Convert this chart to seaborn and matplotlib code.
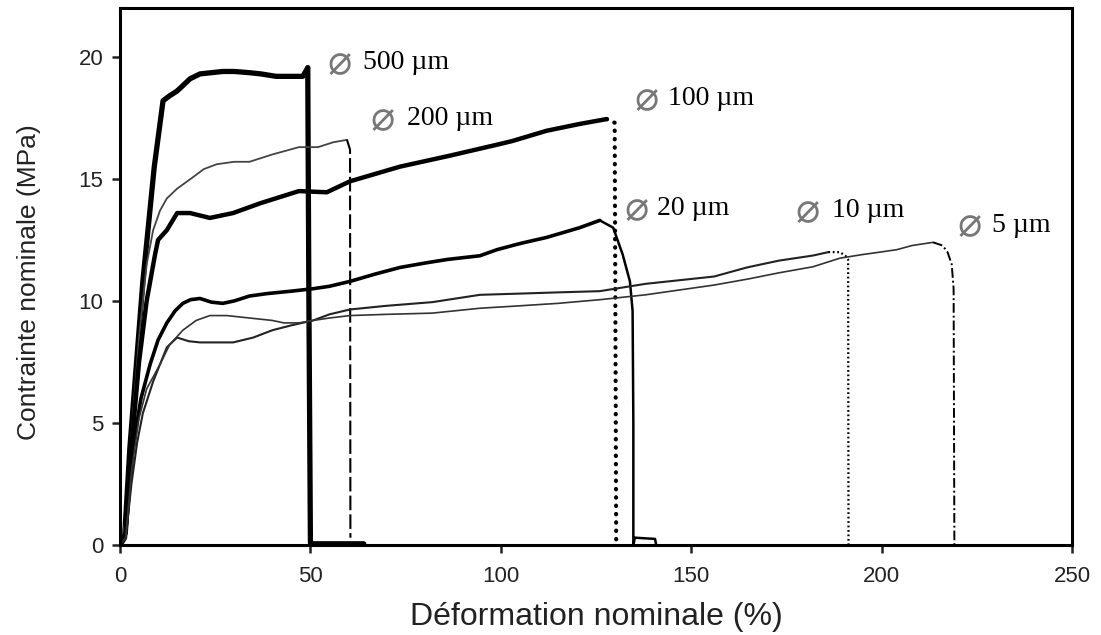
import matplotlib
matplotlib.use("Agg")
import matplotlib.pyplot as plt
import seaborn as sns
import numpy as np
import pandas as pd

# strain (%) / stress (MPa), one pair per fibre diameter
strain_500 = [0, 1.2, 2.6, 6, 9, 11.3, 13, 15, 18.4, 21, 24, 27, 30, 34, 37, 41, 45, 48, 49.3,
              49.6, 50.0, 50.3, 55, 60, 64]
stress_500 = [0, 0.3, 4, 10.8, 15.5, 18.2, 18.4, 18.6, 19.1, 19.3, 19.35, 19.4, 19.4, 19.35, 19.3,
              19.2, 19.2, 19.2, 19.55, 10, 0.1, 0.05, 0.05, 0.05, 0.05]

strain_200 = [0, 1.5, 3, 5, 7, 8.7, 10.5, 12.3, 15, 19, 22, 25.4, 30, 34, 40, 47, 52, 56, 59.6,
              60.4, 60.5]
stress_200 = [0, 1, 4.5, 8.5, 11.5, 12.9, 13.7, 14.2, 14.6, 15.05, 15.4, 15.6, 15.7, 15.7, 16.0,
              16.3, 16.3, 16.5, 16.6, 16.2, 0.3]

strain_100 = [0, 1.5, 3, 5, 7, 9.2, 10, 12.3, 15, 18.4, 23.6, 29.7, 36.8, 47, 54.3, 60.4, 73.5,
              86.6, 99, 103, 112, 120.7, 127.8, 129.9, 130.3]
stress_100 = [0, 0.5, 4, 7.5, 10, 11.9, 12.5, 12.9, 13.6, 13.6, 13.4, 13.6, 14.0, 14.5, 14.45,
              14.9, 15.5, 15.95, 16.4, 16.55, 16.97, 17.25, 17.45, 17.3, 0]

strain_20 = [0, 1.5, 3.4, 5.5, 7.9, 10, 12.3, 14.5, 16.5, 18.5, 21, 24, 27, 30, 34, 38.6, 45,
             50.7, 55, 60.4, 67, 73.5, 80, 86, 94.5, 99, 105, 112, 120.7, 126, 129.5, 132,
             133.9, 134.6, 134.8, 134.8, 135.2, 140.5, 140.8]
stress_20 = [0, 0.5, 4, 6, 7.4, 8.4, 9.1, 9.6, 9.9, 10.05, 10.1, 9.95, 9.9, 10.0, 10.2, 10.3,
             10.4, 10.5, 10.6, 10.8, 11.1, 11.37, 11.55, 11.7, 11.85, 12.1, 12.35, 12.6, 13.0,
             13.3, 13.0, 11.9, 10.8, 9.6, 5, 0, 0.3, 0.25, 0]

strain_10 = [0, 1.5, 3, 4.5, 6, 8.7, 12.3, 15, 18, 21, 25, 29.7, 35, 40, 45, 50.7, 55, 60.4, 70,
             82, 94.5, 105, 115, 126, 138, 147, 156, 164.6, 173, 182, 186, 189, 190.5, 191.2,
             191.3]
stress_10 = [0, 0.3, 2.5, 4.2, 5.4, 6.7, 8.1, 8.5, 8.35, 8.3, 8.3, 8.3, 8.5, 8.8, 9.0, 9.2,
             9.45, 9.65, 9.8, 9.95, 10.25, 10.3, 10.35, 10.4, 10.7, 10.85, 11.0, 11.37, 11.65,
             11.86, 12.0, 12.0, 11.85, 11.7, 0]

strain_5 = [0, 1.5, 3, 5, 7, 10.5, 13, 16.5, 20, 23.6, 28, 34, 40, 43, 47, 50.7, 55, 60.4, 70,
            82, 94.5, 105, 115, 126, 138, 147, 156, 165, 173, 182, 189, 195, 199.6, 204, 208,
            213.5, 216, 217.3, 218.4, 218.9, 219.1]
stress_5 = [0, 0.3, 3, 5.2, 6.4, 7.4, 8.2, 8.8, 9.2, 9.4, 9.4, 9.3, 9.2, 9.1, 9.1, 9.2, 9.3,
            9.4, 9.45, 9.5, 9.7, 9.8, 9.9, 10.05, 10.25, 10.45, 10.65, 10.9, 11.15, 11.4, 11.75,
            11.9, 12.0, 12.1, 12.27, 12.4, 12.27, 12.0, 11.5, 10.5, 0]

diameters = ["500", "200", "100", "20", "10", "5"]
curves = {
    "500": (strain_500, stress_500),
    "200": (strain_200, stress_200),
    "100": (strain_100, stress_100),
    "20": (strain_20, stress_20),
    "10": (strain_10, stress_10),
    "5": (strain_5, stress_5),
}

# look of the loading part and of the rupture part for each curve
body_style = {
    "500": dict(color="black", lw=3.8),
    "200": dict(color="#444444", lw=1.3),
    "100": dict(color="black", lw=3.2),
    "20": dict(color="black", lw=2.6),
    "10": dict(color="#222222", lw=1.5),
    "5": dict(color="#333333", lw=1.2),
}
drop_style = {
    "500": dict(color="black", lw=3.8),
    "200": dict(color="black", lw=1.5, linestyle=(0, (7, 2))),
    "100": dict(color="black", lw=3.0, linestyle=(0, (0.1, 1.9)), dash_capstyle="round"),
    "20": dict(color="black", lw=1.8),
    "10": dict(color="black", lw=1.6, linestyle=(0, (0.8, 1.2))),
    "5": dict(color="black", lw=1.4, linestyle=(0, (5, 1.5, 1, 1.5))),
}

# label anchors: (diameter sign x, text x, y) in data units
label_pos = {
    "500": (55.1, 63.7, 19.75),
    "200": (66.4, 75.3, 17.46),
    "100": (135.6, 143.8, 18.28),
    "20": (133.0, 141.1, 13.78),
    "10": (177.9, 187.0, 13.70),
    "5": (220.4, 229.0, 13.09),
}

sns.set_style("ticks")
plt.rcParams["font.family"] = ["Liberation Sans", "DejaVu Sans"]

fig = plt.figure(figsize=(11.01, 6.35), dpi=100)
ax = fig.add_axes([0.109, 0.1417, 0.8647, 0.8457])

for d in diameters:
    x, y = curves[d]
    df = pd.DataFrame({"strain": x, "stress": y})
    k = int(np.argmax(df["stress"].values))
    sns.lineplot(data=df.iloc[:k + 1], x="strain", y="stress", ax=ax, sort=False,
                 estimator=None, solid_joinstyle="round", **body_style[d])
    sns.lineplot(data=df.iloc[k:], x="strain", y="stress", ax=ax, sort=False,
                 estimator=None, **drop_style[d])

serif = ["Liberation Serif", "DejaVu Serif", "DejaVu Sans"]
for d in diameters:
    xs, xt, yy = label_pos[d]
    ax.text(xs - 0.6, yy, "\u2300", color="#777777", fontsize=29, va="center", ha="left",
            family=["DejaVu Sans"])
    ax.text(xt, yy, f"{d} \u00b5m", color="black", fontsize=20, va="center", ha="left",
            family=serif)

ax.set_xlim(0, 250)
ax.set_ylim(0, 22)
ax.set_xticks([0, 50, 100, 150, 200, 250])
ax.set_yticks([0, 5, 10, 15, 20])
ax.set_xlabel("Déformation nominale (%)", fontsize=23, color="#222222", labelpad=11)
ax.set_ylabel("Contrainte nominale (MPa)", fontsize=19, color="#222222")
ax.yaxis.set_label_coords(-0.083, 0.49)
ax.tick_params(axis="both", direction="out", length=6, width=1.8, labelsize=16,
               colors="#222222", pad=6)
ax.tick_params(axis="x", pad=9)
for s in ax.spines.values():
    s.set_linewidth(2.2)
    s.set_color("black")
    s.set_visible(True)

fig.savefig("out.png", dpi=100)
